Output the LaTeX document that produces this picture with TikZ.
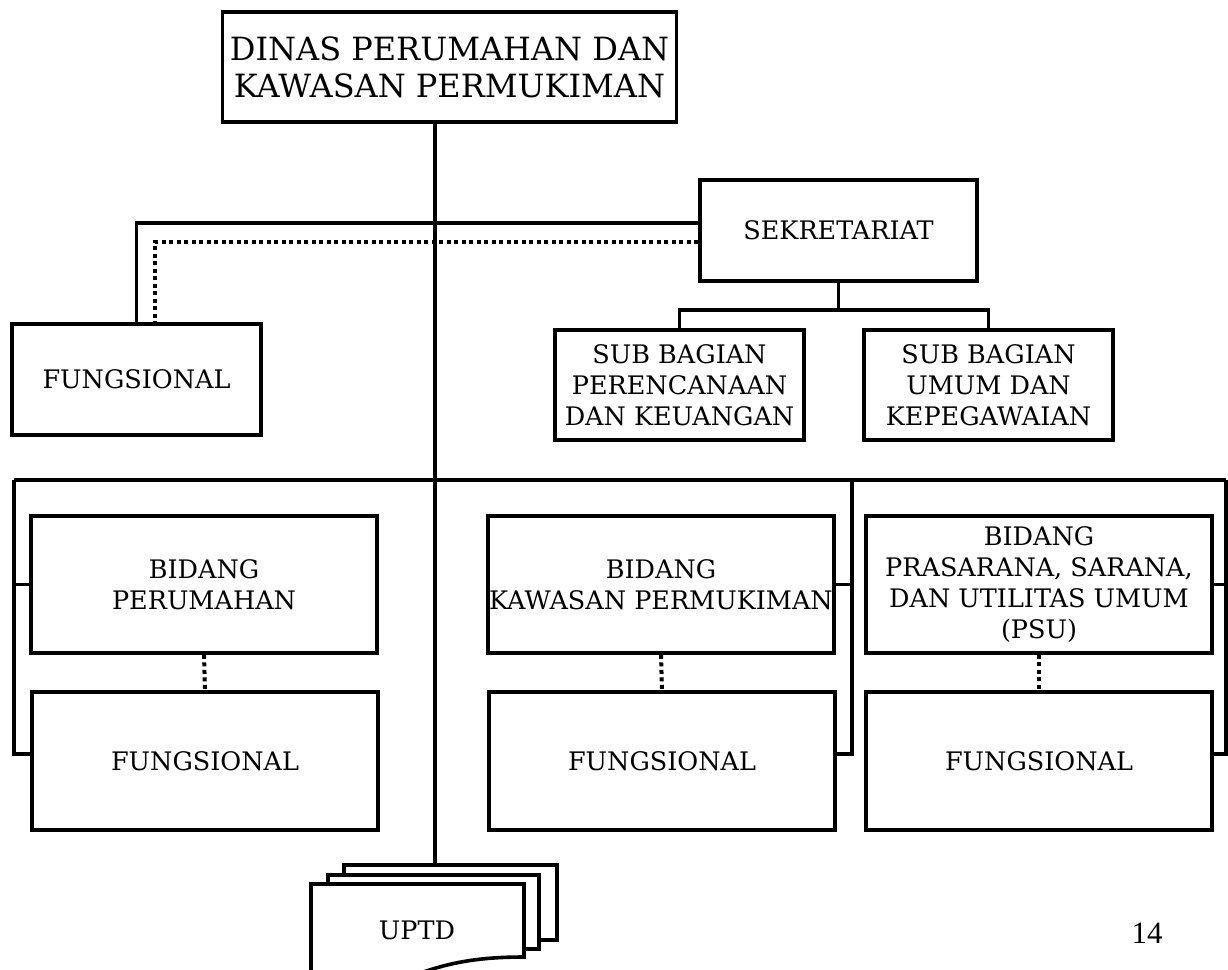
\documentclass[tikz,border=0pt]{standalone}
\usepackage{fontspec}
\setmainfont{DejaVu Serif}
\newfontfamily\pagefont{Liberation Serif}
\begin{document}
\begin{tikzpicture}[x=1pt, y=-1pt, line width=3.6pt,
  unitbox/.style={draw, fill=white, align=center, inner sep=0pt, font=\fontsize{25.5}{31}\selectfont},
  dotline/.style={line width=4pt, dash pattern=on 4pt off 3.5pt}]
\useasboundingbox (0,0) rectangle (1228,969);
\clip (0,0) rectangle (1228,969);
\node[unitbox, minimum width=454pt, minimum height=110pt, font=\fontsize{32}{37}\selectfont] (dinas) at (449.5,67){DINAS PERUMAHAN DAN\\KAWASAN PERMUKIMAN};
\node[unitbox, minimum width=277pt, minimum height=101pt] (sek) at (838.5,230.5){SEKRETARIAT};
\node[unitbox, minimum width=249pt, minimum height=111pt] (fung0) at (136.5,379.5){FUNGSIONAL};
\node[unitbox, minimum width=249pt, minimum height=110pt] (sub1) at (679.5,385){SUB BAGIAN\\PERENCANAAN\\DAN KEUANGAN};
\node[unitbox, minimum width=249pt, minimum height=110pt] (sub2) at (988.5,385){SUB BAGIAN\\UMUM DAN\\KEPEGAWAIAN};
\node[unitbox, minimum width=346pt, minimum height=137pt] (bid1) at (204,584.5){BIDANG\\PERUMAHAN};
\node[unitbox, minimum width=346pt, minimum height=138pt] (fung1) at (205,761){FUNGSIONAL};
\node[unitbox, minimum width=346pt, minimum height=137pt] (bid2) at (661,584.5){BIDANG\\KAWASAN PERMUKIMAN};
\node[unitbox, minimum width=346pt, minimum height=138pt] (fung2) at (662,761){FUNGSIONAL};
\node[unitbox, minimum width=346pt, minimum height=137pt] (bid3) at (1039,584.5){BIDANG\\PRASARANA, SARANA,\\DAN UTILITAS UMUM\\(PSU)};
\node[unitbox, minimum width=346pt, minimum height=138pt] (fung3) at (1039,761){FUNGSIONAL};
\coordinate (trunk) at (435,865);
\coordinate (busL) at (14,480);
\coordinate (busM) at (852,480);
\coordinate (busR) at (1226,480);
\draw[](dinas.south -| trunk) -- (trunk);
\draw[]([yshift=7.5pt]sek.west) -| (fung0.north);
\draw[dotline]([yshift=-11.5pt]sek.west) -| ([xshift=18.5pt]fung0.north);
\draw[](sek.south) -- ++(0,27) -| (sub1.north);
\draw[](sek.south) -- ++(0,27) -| (sub2.north);
\draw[](busL) -- (busR);
\draw[](bid1.west) -| (busL);
\draw[]([yshift=7pt]fung1.west) -| (busL);
\draw[](bid2.east) -| (busM);
\draw[]([yshift=7pt]fung2.east) -| (busM);
\draw[](bid3.east) -| (busR);
\draw[]([yshift=7pt]fung3.east) -| (busR);
\draw[dotline](bid1.south) -- (fung1.north);
\draw[dotline](bid2.south) -- (fung2.north);
\draw[dotline](bid3.south) -- (fung3.north);
\draw[fill=white](344,865) rectangle (557,940);
\draw[fill=white](328,875) rectangle (539,949);
\draw[fill=white](311,990) -- (311,884) -- (524,884) -- (524,957) .. controls (480,957) and (450,962) .. (415,975) .. controls (380,988) and (340,990) .. (311,985) -- cycle;
\node[font=\fontsize{25.5}{31}\selectfont] (uptd) at (417,930){UPTD};
\node[font=\pagefont\fontsize{31}{37}\selectfont] (page) at (1147,933){14};
\end{tikzpicture}
\end{document}
